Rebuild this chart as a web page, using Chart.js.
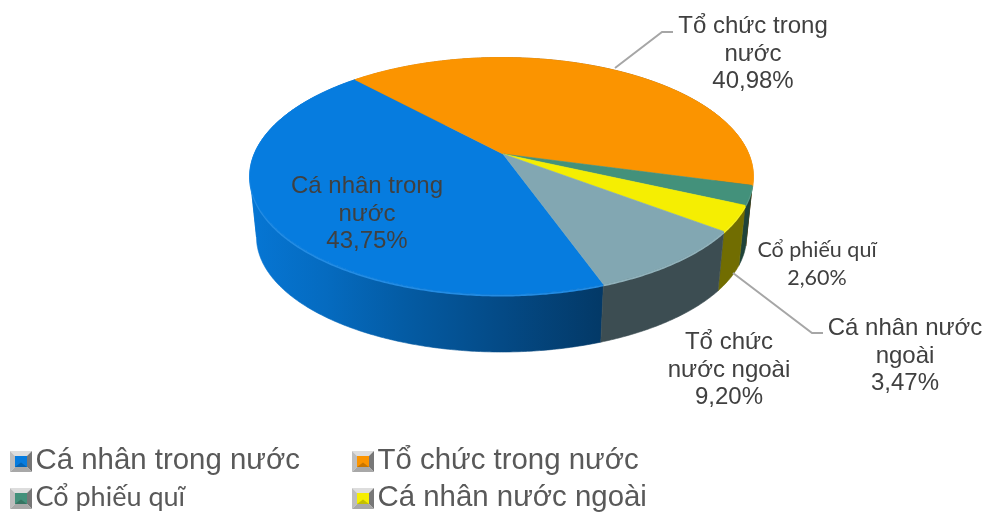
<!DOCTYPE html>
<html>
<head>
<meta charset="utf-8">
<script src="https://cdn.jsdelivr.net/npm/chart.js@4"></script>
<style>
  html, body { margin: 0; padding: 0; background: #fff; }
  #wrap { width: 986px; height: 512px; overflow: hidden; }
</style>
</head>
<body>
<div id="wrap"><canvas id="pie" width="986" height="512"></canvas></div>
<script>
// Chart data
const categories = ["Cá nhân trong nước", "Tổ chức trong nước", "Cổ phiếu quĩ", "Cá nhân nước ngoài", "Tổ chức nước ngoài"];
const shares = [43.75, 40.98, 2.6, 3.47, 9.2];
const shareLabels = ["43,75%", "40,98%", "2,60%", "3,47%", "9,20%"];
const sliceColors = ["#067CDF", "#FB9400", "#43917B", "#F5EE02", "#82A7B2"];

// Where the data labels go: wrapped name lines, centre x, first baseline
const labelLayout = [
  { lines: ["Cá nhân trong", "nước"], x: 367, y: 193 },
  { lines: ["Tổ chức trong", "nước"], x: 753, y: 33 },
  { lines: ["Cổ phiếu quĩ"], x: 817, y: 257, small: true },
  { lines: ["Cá nhân nước", "ngoài"], x: 905, y: 335 },
  { lines: ["Tổ chức", "nước ngoài"], x: 729, y: 349 },
];
const leaderLines = [
  [[615, 68], [662, 32], [673, 32]],
  [[733, 273], [812, 333], [823, 333]],
];

// Top face and bottom rim of the 3D pie, k is the perspective shift of the centre
const topRim = { cx: 501.5, cy: 176, rx: 251.5, ry: 118.5 };
const bottomRim = { cx: 501.5, cy: 237, rx: 245, ry: 115 };
const apex = [503, 154];
const k = -0.186;

// Angles where the rim turns from front to back
const foldRight = Math.asin(-k);
const foldLeft = Math.PI - foldRight;

// circle angle -> point on an ellipse, with perspective
function rimPoint(rim, angle) {
  const c = Math.cos(angle), s = Math.sin(angle);
  const d = 1 + k * s;
  return [
    rim.cx + rim.rx * (c * Math.sqrt(1 - k * k)) / d,
    rim.cy + rim.ry * (s + k) / d,
  ];
}

function rimPoints(rim, start, end) {
  const steps = Math.max(2, Math.ceil((end - start) / 0.01));
  const pts = [];
  for (let i = 0; i <= steps; i++) pts.push(rimPoint(rim, start + ((end - start) * i) / steps));
  return pts;
}

// Cut a slice's angle range at the fold angles, a wall polygon that runs over a fold cancels itself out
function wallRanges(start, end) {
  const cuts = [];
  for (let turn = -1; turn <= 2; turn++) {
    [foldRight, foldLeft].forEach((a) => {
      const t = a + turn * 2 * Math.PI;
      if (t > start && t < end) cuts.push(t);
    });
  }
  cuts.sort((a, b) => a - b);
  const edges = [start, ...cuts, end];
  return edges.slice(0, -1).map((a, i) => [a, edges[i + 1]]);
}

function shade(hex, f) {
  const n = parseInt(hex.slice(1), 16);
  const r = Math.round(((n >> 16) & 255) * f);
  const g = Math.round(((n >> 8) & 255) * f);
  const b = Math.round((n & 255) * f);
  return `rgb(${r},${g},${b})`;
}

function lighten(hex, f) {
  const n = parseInt(hex.slice(1), 16);
  const mix = (v) => Math.round(v + (255 - v) * f);
  return `rgb(${mix((n >> 16) & 255)},${mix((n >> 8) & 255)},${mix(n & 255)})`;
}

// Side wall gets darker from left to right
function wallGradient(ctx, color) {
  const g = ctx.createLinearGradient(250, 0, 753, 0);
  g.addColorStop(0, shade(color, 0.95));
  g.addColorStop(0.15, shade(color, 0.86));
  g.addColorStop(0.3, shade(color, 0.74));
  g.addColorStop(0.5, shade(color, 0.6));
  g.addColorStop(0.7, shade(color, 0.46));
  g.addColorStop(1, shade(color, 0.46));
  return g;
}

const pie3d = {
  id: "pie3d",
  // replaces the flat arcs, the angles still come from Chart.js
  beforeDatasetsDraw(chart) {
    const ctx = chart.ctx;
    const arcs = chart.getDatasetMeta(0).data;

    ctx.save();
    arcs.forEach((arc) => {
      const fill = wallGradient(ctx, arc.options.backgroundColor);
      ctx.fillStyle = fill;
      ctx.strokeStyle = fill;
      ctx.lineWidth = 0.6;
      wallRanges(arc.startAngle, arc.endAngle).forEach(([from, to]) => {
        const upper = rimPoints(topRim, from, to);
        const lower = rimPoints(bottomRim, from, to).reverse();
        ctx.beginPath();
        upper.concat(lower).forEach((p, i) => (i ? ctx.lineTo(p[0], p[1]) : ctx.moveTo(p[0], p[1])));
        ctx.closePath();
        ctx.fill();
        ctx.stroke();
      });
    });

    // light bevel where the top meets the wall
    arcs.forEach((arc) => {
      const upper = rimPoints(topRim, arc.startAngle, arc.endAngle);
      ctx.beginPath();
      upper.forEach((p, i) => (i ? ctx.lineTo(p[0], p[1] + 1) : ctx.moveTo(p[0], p[1] + 1)));
      ctx.strokeStyle = lighten(arc.options.backgroundColor, 0.12);
      ctx.lineWidth = 2;
      ctx.stroke();
    });

    arcs.forEach((arc) => {
      const upper = rimPoints(topRim, arc.startAngle, arc.endAngle);
      ctx.beginPath();
      ctx.moveTo(apex[0], apex[1]);
      upper.forEach((p) => ctx.lineTo(p[0], p[1]));
      ctx.closePath();
      ctx.fillStyle = arc.options.backgroundColor;
      ctx.strokeStyle = arc.options.backgroundColor;
      ctx.lineWidth = 0.6;
      ctx.fill();
      ctx.stroke();
    });
    ctx.restore();
    return false;
  },
  afterDraw(chart) {
    const ctx = chart.ctx;
    ctx.save();

    // leader lines
    ctx.strokeStyle = "#A6A6A6";
    ctx.lineWidth = 2;
    leaderLines.forEach((line) => {
      ctx.beginPath();
      line.forEach((p, i) => (i ? ctx.lineTo(p[0], p[1]) : ctx.moveTo(p[0], p[1])));
      ctx.stroke();
    });

    // data labels
    ctx.fillStyle = "#404040";
    ctx.textAlign = "center";
    ctx.textBaseline = "alphabetic";
    labelLayout.forEach((label, i) => {
      const step = label.small ? 28 : 27.5;
      ctx.font = label.small ? '21.5px "Lato"' : '24px "Liberation Sans"';
      label.lines.concat(shareLabels[i]).forEach((text, n) => {
        ctx.fillText(text, label.x, label.y + n * step);
      });
    });

    // legend, the fifth entry falls below the picture in the original
    ctx.textAlign = "left";
    const slots = [[10, 451], [352, 451], [10, 488], [352, 488]];
    slots.forEach((slot, i) => {
      drawMarker(ctx, slot[0], slot[1], sliceColors[i]);
      // the "Cổ phiếu quĩ" entry uses a narrower font in the original
      ctx.font = i === 2 ? '27px "Lato"' : '29.4px "Liberation Sans"';
      ctx.fillStyle = "#595959";
      ctx.fillText(categories[i], slot[0] + 25.5, slot[1] + 18);
    });
    ctx.restore();
  },
};

// Bevelled legend square
function drawMarker(ctx, x, y, color) {
  const w = 22, h = 21, b = 5;
  const face = (pts, fill) => {
    ctx.beginPath();
    pts.forEach((p, i) => (i ? ctx.lineTo(p[0], p[1]) : ctx.moveTo(p[0], p[1])));
    ctx.closePath();
    ctx.fillStyle = fill;
    ctx.fill();
  };
  const a = [x, y], c = [x + w, y], d = [x + w, y + h], e = [x, y + h];
  const ia = [x + b, y + b], ic = [x + w - b, y + b], id = [x + w - b, y + h - b], ie = [x + b, y + h - b];
  face([a, c, ic, ia], "#DDDDDD");
  face([a, ia, ie, e], "#BDBDBD");
  face([c, d, id, ic], "#777777");
  face([e, ie, id, d], "#A8A8A8");
  face([ia, ic, id, ie], color);
  face([[x + w / 2, y + h / 2 + 1], id, ie], shade(color, 0.8));
}

new Chart(document.getElementById("pie"), {
  type: "pie",
  data: {
    labels: categories,
    datasets: [{ data: shares, backgroundColor: sliceColors, borderWidth: 0 }],
  },
  options: {
    responsive: false,
    animation: false,
    rotation: 160.1,
    plugins: {
      legend: { display: false },
      tooltip: { enabled: false },
    },
  },
  plugins: [pie3d],
});
</script>
</body>
</html>
